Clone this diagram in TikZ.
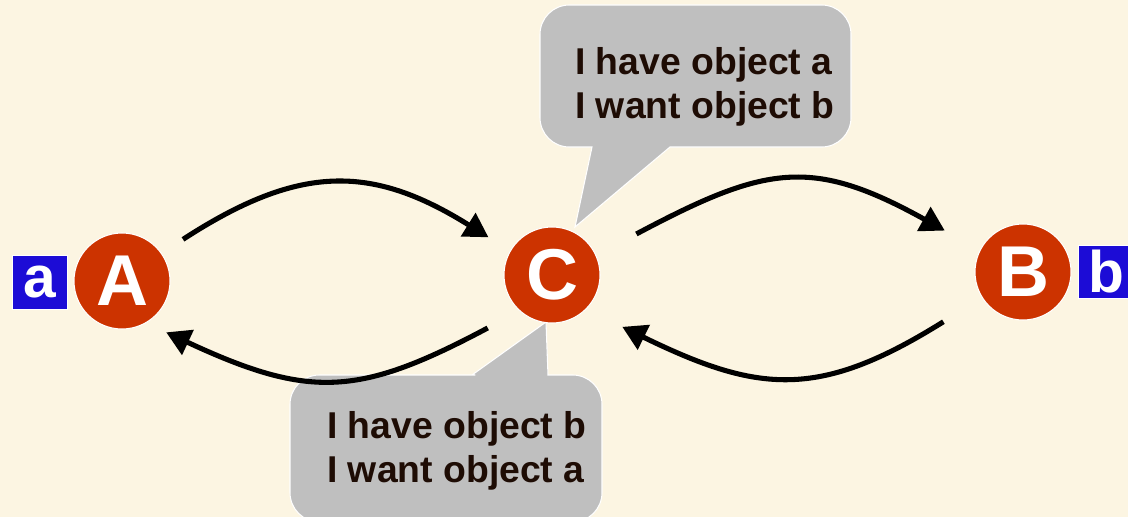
\documentclass[tikz,border=0pt]{standalone}
\usepackage{fontspec}
\setmainfont{Liberation Sans}
\usepackage{xcolor}
\usepackage{tikz}
\usetikzlibrary{positioning, arrows.meta}

\definecolor{cream}{RGB}{252,245,226}
\definecolor{peerred}{RGB}{204,51,0}
\definecolor{objblue}{RGB}{28,12,214}
\definecolor{speechgray}{RGB}{191,191,191}
\definecolor{inkbrown}{RGB}{30,12,4}

\tikzset{
    peer/.style={circle, fill=peerred, draw=white, line width=0.8pt, minimum size=72pt,
        inner sep=0pt, text=white, font=\fontsize{54}{54}\selectfont\bfseries},
    objbox/.style={fill=objblue, draw=white, line width=0.6pt, minimum width=41pt,
        minimum height=40pt, inner sep=0pt, text=white, font=\fontsize{44}{44}\selectfont\bfseries},
    speech/.style={fill=speechgray, draw=white, line width=0.8pt},
    speechtext/.style={anchor=north west, inner sep=0pt, align=left, text=inkbrown,
        font=\fontsize{28}{33}\selectfont\bfseries},
    flow/.style={line width=3.8pt, -{Triangle[length=18pt,width=20pt]}}
}

\begin{document}
\begin{tikzpicture}[x=0.75pt, y=-0.75pt]
    \useasboundingbox[fill=cream] (0,0) rectangle (1128,517);

    % speech bubbles (drawn first, the peers sit on top)
    \draw[speech] (696,5) [rounded corners=22pt] -- (851,5) -- (851,147)
        [sharp corners] -- (670,147) -- (575,227) -- (592,147)
        [rounded corners=22pt] -- (540,147) -- (540,5) -- cycle;
    \draw[speech] (446,375) [sharp corners] -- (472,375) -- (546,322) -- (548,375)
        [rounded corners=22pt] -- (602,375) -- (602,522) -- (290,522) -- (290,375) -- cycle;
    \node[speechtext] (wantb) at (575,47) {I have object a\\I want object b};
    \node[speechtext] (wanta) at (327,411) {I have object b\\I want object a};

    % peers
    \node[peer] (A) at (122,281) {A};
    \node[peer] (C) at (552,275) {C};
    \node[peer] (B) at (1023,272) {B};

    \node[objbox, left=4.5pt of A, yshift=-1pt] (a) {a};
    \node[objbox, right=5pt of B] (b) {b};

    % trades
    \draw[flow, shorten <=19pt, shorten >=19pt] (A.35) to[out=33, in=148, looseness=1.2] (C.150);
    \draw[flow, shorten <=34pt, shorten >=30pt] (C.24) to[out=28, in=151, looseness=1.28] (B.153);
    \draw[flow, shorten <=27pt, shorten >=16.5pt] (C.228) to[out=208, in=335, looseness=1.24] (A.300);
    \draw[flow, shorten <=34pt, shorten >=30pt] (B.212) to[out=212, in=334, looseness=1.24] (C.315);
\end{tikzpicture}
\end{document}
